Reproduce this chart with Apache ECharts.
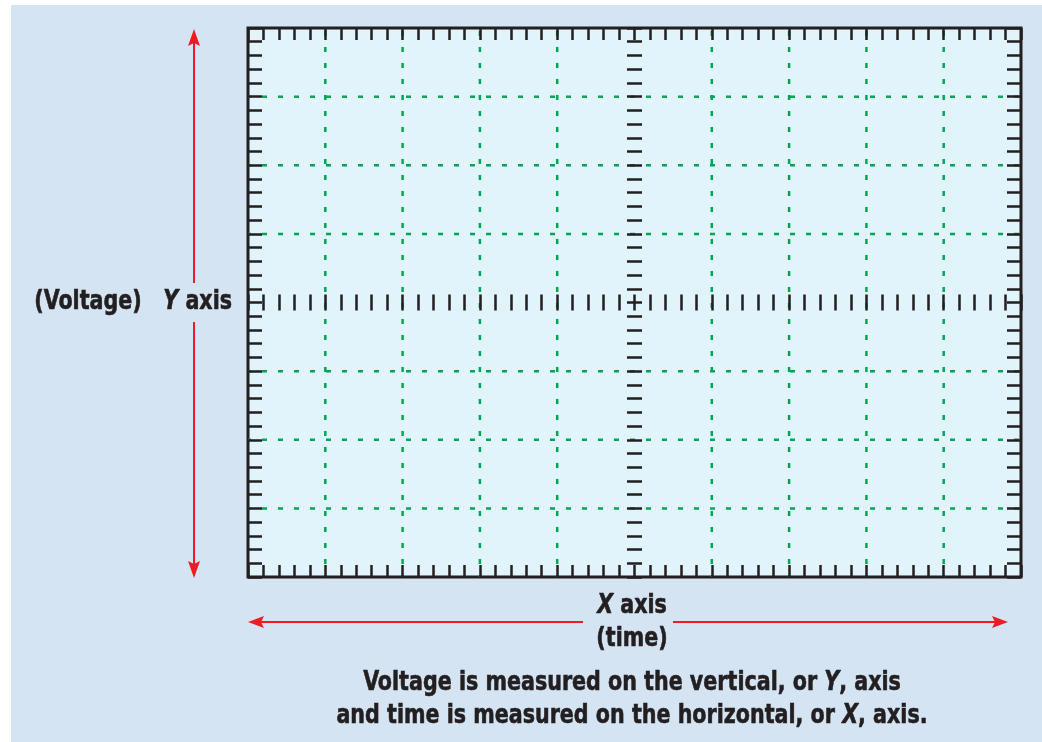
<!DOCTYPE html>
<html lang="en">

<head>
    <meta charset="UTF-8">
    <title>graticule</title>
    <script src="https://cdn.jsdelivr.net/npm/echarts@6/dist/echarts.min.js"></script>
</head>

<body style="margin:0;padding:0;">
    <div id="scope_chart" style="position:absolute;left:0;top:0;width:1042px;height:742px;"></div>
    <script>
        // 屏幕刻度: 横向 10 格, 纵向 8 格, 每格 5 个小刻度 (单位 = 小刻度)
        var xRange = [0, 50];
        var yRange = [0, 40];
        var minorStep = 1;
        var xGridLines = [5, 10, 15, 20, 30, 35, 40, 45]; // 竖向虚线 (中线除外)
        var yGridLines = [5, 10, 15, 25, 30, 35];         // 横向虚线 (中线除外)

        var yTitle = '(Voltage)   {i|Y} axis';
        var xTitle = ['{i|X} axis', '(time)'];
        var captionLines = [
            'Voltage is measured on the vertical, or {i|Y}, axis',
            'and time is measured on the horizontal, or {i|X}, axis.'
        ];

        var INK = '#231f20';
        var RED = '#ed1c24';
        var GREEN = '#00a651';
        var FAMILY = '"DejaVu Sans Condensed", "DejaVu Sans", sans-serif';
        var FONT = 'bold 27px ' + FAMILY;
        var FONT_I = 'italic bold 27px ' + FAMILY;

        function tickAxis(pos, len, offset) {
            var horizontal = (pos === 'top' || pos === 'bottom');
            return {
                type: 'value',
                position: pos,
                offset: offset || 0,
                min: horizontal ? xRange[0] : yRange[0],
                max: horizontal ? xRange[1] : yRange[1],
                interval: minorStep,
                z: 5,
                axisLine: { show: false, onZero: false },
                axisLabel: { show: false },
                splitLine: { show: false },
                axisTick: {
                    show: true,
                    inside: true,
                    length: len,
                    lineStyle: { color: INK, width: 2.5 }
                }
            };
        }

        function setSeries() {
            var series = [];
            xGridLines.forEach(function (x) {
                series.push({
                    type: 'line',
                    silent: true,
                    symbol: 'none',
                    lineStyle: { color: GREEN, width: 2.5, type: [5, 11], dashOffset: 13 },
                    data: [[x, yRange[1]], [x, yRange[0]]]
                });
            });
            yGridLines.forEach(function (y) {
                series.push({
                    type: 'line',
                    silent: true,
                    symbol: 'none',
                    lineStyle: { color: GREEN, width: 2.5, type: [5, 11], dashOffset: 2 },
                    data: [[xRange[0], y], [xRange[1], y]]
                });
            });
            return series;
        }

        function label(text, x, y, align) {
            return {
                type: 'text',
                x: x,
                y: y,
                scaleX: 0.85,
                silent: true,
                style: {
                    text: text,
                    font: FONT,
                    fill: INK,
                    stroke: INK,
                    lineWidth: 0.6,
                    align: align || 'center',
                    textAlign: align || 'center',
                    verticalAlign: 'middle',
                    textVerticalAlign: 'middle',
                    rich: { i: { font: FONT_I, fill: INK, stroke: INK, lineWidth: 0.6 } }
                }
            };
        }

        function redLine(x1, y1, x2, y2) {
            return {
                type: 'line',
                silent: true,
                shape: { x1: x1, y1: y1, x2: x2, y2: y2 },
                style: { stroke: RED, lineWidth: 2 }
            };
        }

        function head(points) {
            return {
                type: 'polygon',
                silent: true,
                shape: { points: points },
                style: { fill: RED }
            };
        }

        var chart = echarts.init(document.getElementById('scope_chart'));
        var option = {
            animation: false,
            backgroundColor: '#d4e4f3',
            grid: {
                left: 248,
                top: 28,
                right: 21,
                bottom: 165,
                show: true,
                backgroundColor: '#e1f3fb',
                borderColor: INK,
                borderWidth: 3
            },
            xAxis: [
                tickAxis('bottom', 12),
                tickAxis('top', 12),
                tickAxis('top', 16, -266.5)
            ],
            yAxis: [
                tickAxis('left', 14),
                tickAxis('right', 14),
                tickAxis('left', 15, -379)
            ],
            series: setSeries(),
            graphic: [
                { type: 'rect', silent: true, shape: { x: 0, y: 0, width: 11, height: 742 }, style: { fill: '#fff' } },
                { type: 'rect', silent: true, shape: { x: 0, y: 0, width: 1042, height: 5 }, style: { fill: '#fff' } },
                redLine(194, 40, 194, 283),
                redLine(194, 322, 194, 567),
                head([[194, 29], [188, 46], [194, 43], [200, 46]]),
                head([[194, 578], [188, 561], [194, 564], [200, 561]]),
                redLine(258, 622, 583, 622),
                redLine(673, 622, 998, 622),
                head([[248, 622], [264, 616], [261, 622], [264, 628]]),
                head([[1008, 622], [992, 616], [995, 622], [992, 628]]),
                label(yTitle, 232, 302, 'right'),
                label(xTitle[0], 632, 606),
                label(xTitle[1], 632, 639),
                label(captionLines[0], 632, 683),
                label(captionLines[1], 632, 716)
            ]
        };
        chart.setOption(option);
    </script>
</body>

</html>
